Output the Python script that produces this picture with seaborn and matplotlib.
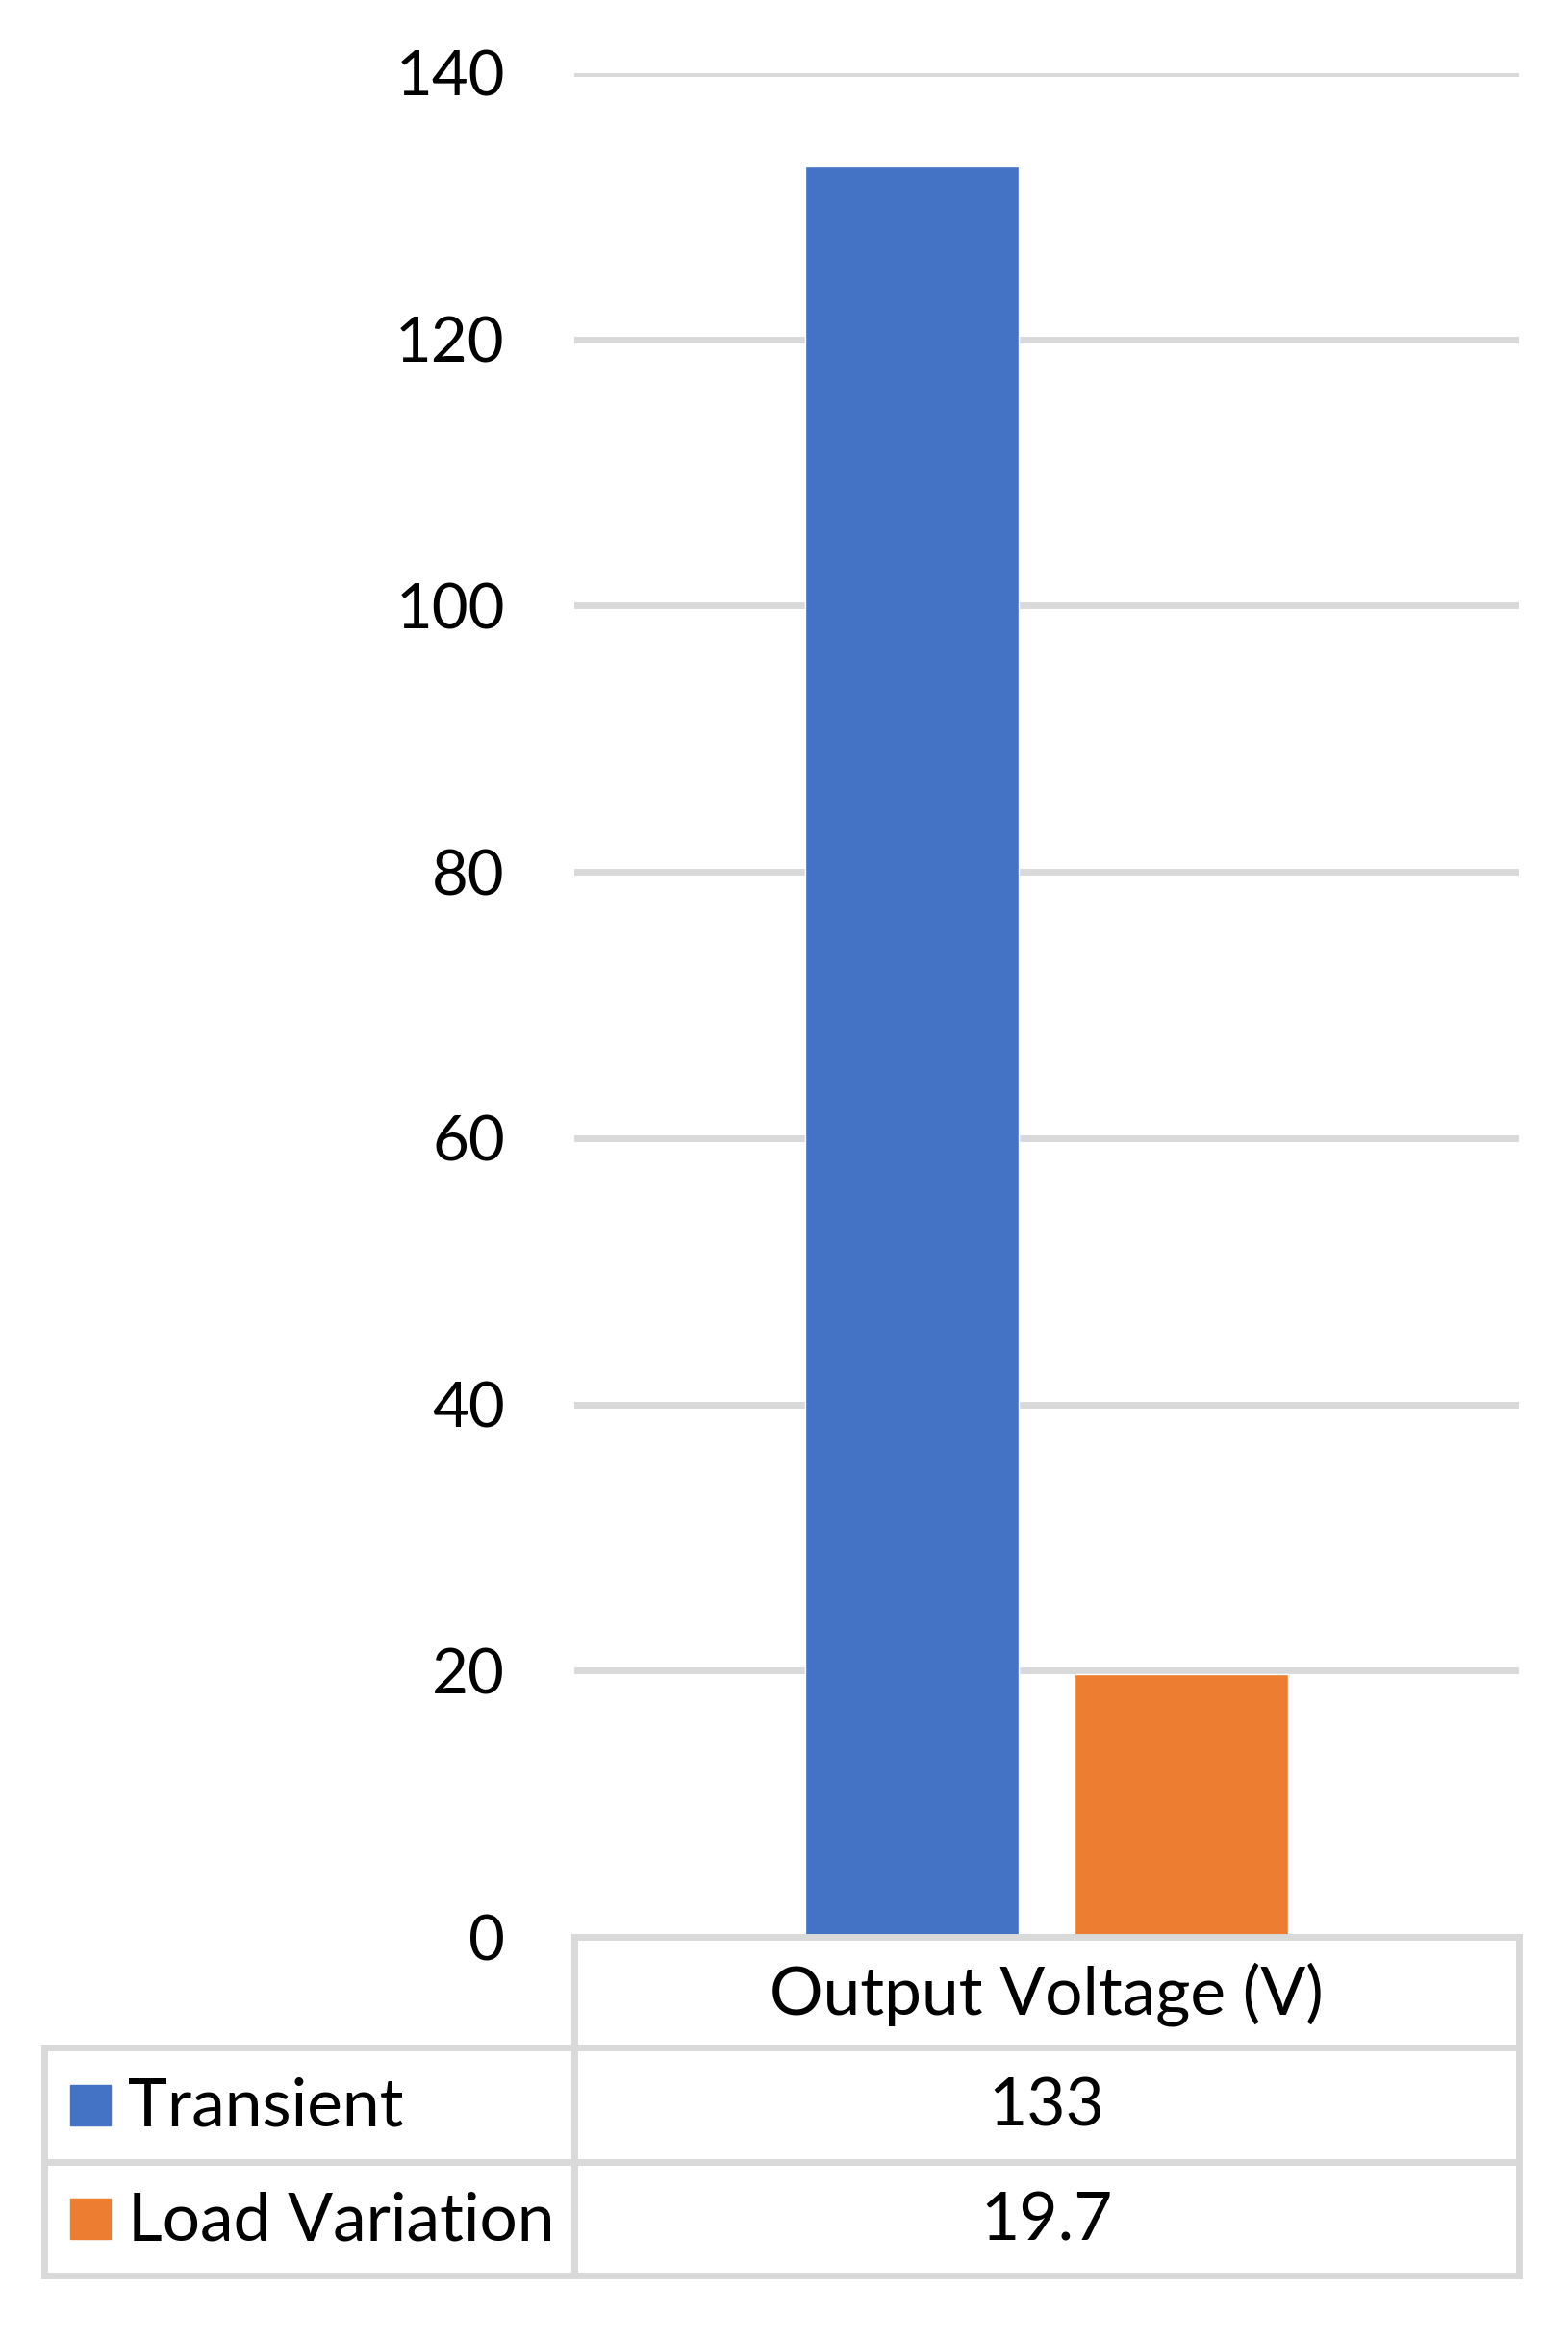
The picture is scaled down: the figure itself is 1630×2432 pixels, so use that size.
import matplotlib
matplotlib.use("Agg")
import matplotlib.pyplot as plt
import seaborn as sns
import pandas as pd
from matplotlib.lines import Line2D
from matplotlib.patches import Rectangle

# ---- data ----
category = ["Output Voltage (V)"]
series_names = ["Transient", "Load Variation"]
series_values = [133, 19.7]
value_labels = ["133", "19.7"]
yticks = [0, 20, 40, 60, 80, 100, 120, 140]
colors = ["#4472C4", "#ED7D31"]

df = pd.DataFrame({
    "metric": category * len(series_names),
    "series": series_names,
    "value": series_values,
})

sns.set_theme(style="white")
plt.rcParams["font.family"] = ["Lato", "DejaVu Sans"]

W, H, DPI = 1630, 2432, 100
fig = plt.figure(figsize=(W / DPI, H / DPI), dpi=DPI)

def fx(px):
    return px / W

def fy(py):
    return 1 - py / H

ax_left, ax_right, ax_top, ax_bottom = 597, 1579, 76, 2013
ax = fig.add_axes([fx(ax_left), fy(ax_bottom), fx(ax_right - ax_left), (ax_bottom - ax_top) / H])

sns.barplot(data=df, x="metric", y="value", hue="series", palette=colors,
            width=0.571, gap=0.21, ax=ax, legend=False, saturation=1)

ax.set_ylim(0, 140)
ax.set_xlim(-0.5, 0.5)
ax.set_yticks(yticks)
ax.set_yticklabels([str(t) for t in yticks], fontsize=47, color="black")
ax.set_xticks([])
ax.set_xlabel("")
ax.set_ylabel("")
ax.tick_params(axis="y", length=0, pad=52)
for s in ax.spines.values():
    s.set_visible(False)
ax.yaxis.grid(True, color="#D9D9D9", linewidth=5)
ax.set_axisbelow(True)

# ---- data table below the plot ----
gray = "#D9D9D9"
lw = 5
row_y = [2013, 2128, 2247, 2365]
left_x = 46
tfs = 50

def hline(y, x0, x1):
    fig.add_artist(Line2D([fx(x0), fx(x1)], [fy(y), fy(y)], color=gray, lw=lw,
                          solid_capstyle="projecting"))

def vline(x, y0, y1):
    fig.add_artist(Line2D([fx(x), fx(x)], [fy(y0), fy(y1)], color=gray, lw=lw,
                          solid_capstyle="projecting"))

hline(row_y[0], ax_left, ax_right)
for y in row_y[1:]:
    hline(y, left_x, ax_right)
vline(ax_left, row_y[0], row_y[-1])
vline(ax_right, row_y[0], row_y[-1])
vline(left_x, row_y[1], row_y[-1])

cx = (ax_left + ax_right) / 2
fig.text(fx(cx), fy((row_y[0] + row_y[1]) / 2 + 2), category[0], ha="center", va="center",
         fontsize=tfs, color="black")

for i, (name, lab, col) in enumerate(zip(series_names, value_labels, colors)):
    yc = (row_y[i + 1] + row_y[i + 2]) / 2
    sq = 42
    fig.add_artist(Rectangle((fx(73), fy(yc + sq / 2)), fx(sq), sq / H, color=col,
                             transform=fig.transFigure))
    fig.text(fx(133), fy(yc + 3), name, ha="left", va="center", fontsize=tfs, color="black")
    fig.text(fx(cx), fy(yc + 3), lab, ha="center", va="center", fontsize=tfs, color="black")

fig.savefig("out.png", dpi=DPI, facecolor="white")
